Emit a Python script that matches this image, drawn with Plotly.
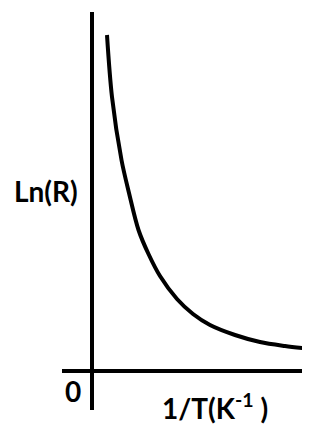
import plotly.graph_objects as go

# 1/T values (arbitrary units) and Ln(R) values
inv_T = [0.15, 0.20, 0.295, 0.37, 0.465, 0.565, 0.68, 0.85, 1.01, 1.18, 1.43, 1.68, 1.93, 2.18]
ln_R = [3.36, 2.74, 2.11, 1.78, 1.41, 1.17, 0.95, 0.72, 0.57, 0.46, 0.36, 0.29, 0.25, 0.22]

y_label = "Ln(R)"
x_label = "1/T(K<sup>-1</sup> )"
origin_label = "0"

FONT = dict(family="Lato, 'Open Sans', sans-serif", size=28, color="black")

fig = go.Figure()
fig.add_trace(go.Scatter(
    x=inv_T, y=ln_R, mode="lines",
    line=dict(color="black", width=4, shape="spline", smoothing=0.9),
    hoverinfo="skip", showlegend=False,
))

axis_common = dict(
    showgrid=False, showticklabels=False, ticks="", showline=False,
    zeroline=True, zerolinecolor="black", zerolinewidth=4, fixedrange=True,
)
# the page body has an 8px margin, so the figure is 8px smaller on each leading side
fig.update_layout(
    width=302, height=418,
    margin=dict(l=54, r=0, t=4, b=16),
    paper_bgcolor="white", plot_bgcolor="white",
    xaxis=dict(range=[-0.30, 2.18], **axis_common),
    yaxis=dict(range=[-0.39, 3.59], **axis_common),
    annotations=[
        dict(text="<b>" + y_label + "</b>", x=-0.0645, y=0.550, xref="paper", yref="paper",
             xanchor="center", yanchor="middle", showarrow=False, font=FONT),
        dict(text="<b>" + origin_label + "</b>", x=0.0444, y=0.047, xref="paper", yref="paper",
             xanchor="center", yanchor="middle", showarrow=False, font=FONT),
        dict(text="<b>" + x_label + "</b>", x=0.617, y=0.010, xref="paper", yref="paper",
             xanchor="center", yanchor="middle", showarrow=False, font=FONT),
    ],
)

fig.write_html("out.html")
